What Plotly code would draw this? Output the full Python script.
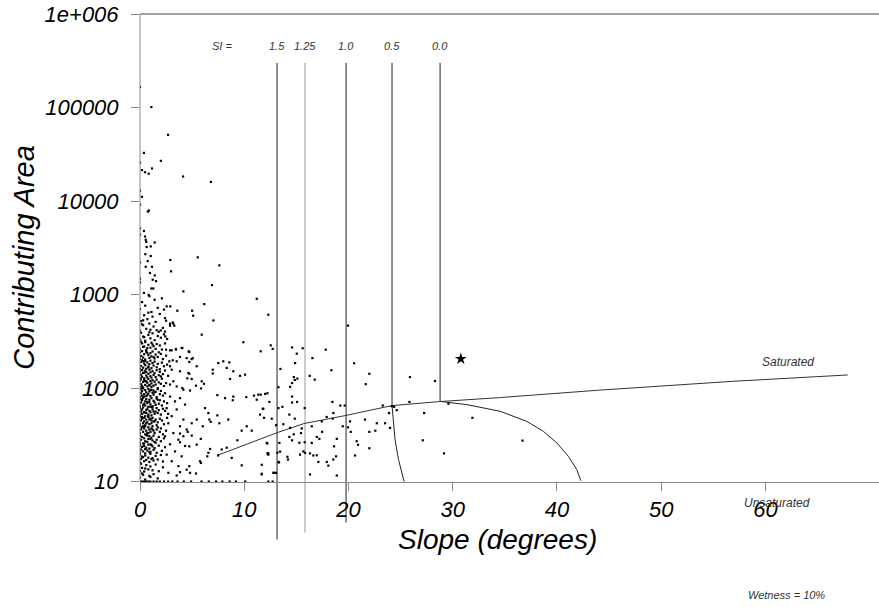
import plotly.graph_objects as go

# slope (degrees) / contributing area readings, grouped by region of the plot
dense_slope = [
    0.2, 0.9, 1.4, 2.1,
    0, 0.5, 1.1, 1.7, 2.3, 0.8,
    0.1, 0.4, 0.7, 1.2, 1.5, 1.9, 2.4, 0.3,
    0, 0.3, 0.6, 0.9, 1.0, 1.3, 1.8, 2.2, 0.2, 1.6,
    0, 0.1, 0.4, 0.5, 0.8, 1.0, 1.2, 1.4, 1.7, 2.0, 2.3, 2.6, 0.3, 0.9,
    0, 0.2, 0.3, 0.5, 0.6, 0.8, 1.0, 1.1, 1.3, 1.5, 1.6, 1.9, 2.1, 2.4, 0.1, 0.7, 1.2, 0.4,
    0, 0, 0.1, 0.2, 0.3, 0.4, 0.5, 0.6, 0.8, 0.9, 1.0, 1.1, 1.2, 1.4, 1.5, 1.7, 1.8, 2.0, 2.2, 2.5, 0.7, 1.3,
    0, 0.1, 0.1, 0.2, 0.3, 0.4, 0.5, 0.5, 0.6, 0.7, 0.8, 0.9, 1.0, 1.1, 1.2, 1.3, 1.4, 1.6, 1.7, 1.9, 2.1, 2.3, 2.6, 0.3, 0.8,
    0, 0, 0.1, 0.2, 0.2, 0.3, 0.4, 0.5, 0.6, 0.6, 0.7, 0.8, 0.9, 1.0, 1.0, 1.1, 1.2, 1.3, 1.4, 1.5, 1.6, 1.8, 1.9, 2.0, 2.2, 2.4, 2.7, 0.4,
    0, 0, 0.1, 0.1, 0.2, 0.3, 0.3, 0.4, 0.5, 0.6, 0.7, 0.7, 0.8, 0.9, 1.0, 1.1, 1.1, 1.2, 1.3, 1.4, 1.5, 1.6, 1.7, 1.8, 2.0, 2.1, 2.3, 2.5, 0.5, 0.9,
    0, 0, 0.1, 0.2, 0.2, 0.3, 0.4, 0.4, 0.5, 0.6, 0.7, 0.8, 0.8, 0.9, 1.0, 1.1, 1.2, 1.3, 1.3, 1.5, 1.6, 1.7, 1.9, 2.0, 2.2, 2.4, 0.1, 0.6, 1.0, 1.4,
    0, 0, 0.1, 0.2, 0.3, 0.3, 0.4, 0.5, 0.5, 0.6, 0.7, 0.8, 0.9, 0.9, 1.0, 1.1, 1.2, 1.3, 1.4, 1.5, 1.6, 1.8, 1.9, 2.1, 2.3, 2.6, 0.2, 0.7, 1.1, 1.7,
    0, 0, 0.1, 0.2, 0.2, 0.3, 0.4, 0.5, 0.6, 0.6, 0.7, 0.8, 0.9, 1.0, 1.0, 1.1, 1.2, 1.3, 1.4, 1.6, 1.7, 1.8, 2.0, 2.2, 2.4, 0.4, 0.8, 1.2, 1.5, 2.7,
    0, 0, 0.1, 0.2, 0.3, 0.4, 0.4, 0.5, 0.6, 0.7, 0.8, 0.9, 1.0, 1.1, 1.1, 1.2, 1.3, 1.5, 1.6, 1.7, 1.9, 2.1, 2.3, 0.2, 0.6, 0.9, 1.4, 2.6,
    0, 0, 0.1, 0.2, 0.3, 0.4, 0.5, 0.5, 0.6, 0.7, 0.8, 0.9, 1.0, 1.1, 1.2, 1.3, 1.4, 1.6, 1.7, 1.9, 2.0, 2.2, 2.5, 0.3, 0.8, 1.2,
    0, 0, 0.1, 0.2, 0.3, 0.4, 0.5, 0.6, 0.7, 0.8, 0.9, 1.0, 1.1, 1.2, 1.3, 1.5, 1.6, 1.8, 2.0, 2.3, 0.4, 0.7, 1.0, 1.4,
    0, 0, 0.1, 0.2, 0.3, 0.4, 0.5, 0.6, 0.7, 0.8, 0.9, 1.0, 1.2, 1.3, 1.4, 1.6, 1.8, 2.1, 2.4, 0.5, 0.9, 1.1,
    0, 0, 0.1, 0.2, 0.4, 0.5, 0.6, 0.8, 0.9, 1.0, 1.2, 1.3, 1.5, 1.7, 2.0, 2.2, 0.3, 1.1,
    0, 0.1, 0.2, 0.4, 0.6, 0.8, 1.0, 1.2, 1.5, 1.8, 2.2, 0.5,
    0, 0.2, 0.5, 0.9, 1.3, 1.7, 0.3, 1.0,
]
dense_area = [
    830, 960, 880, 910,
    700, 760, 650, 720, 690, 640,
    520, 600, 545, 580, 510, 620, 560, 530,
    410, 470, 430, 490, 420, 455, 400, 440, 480, 415,
    330, 390, 350, 320, 370, 340, 385, 325, 360, 345, 375, 335, 355, 395,
    260, 300, 275, 310, 255, 290, 270, 305, 280, 262, 295, 285, 258, 300, 312, 268, 292, 278,
    205, 240, 220, 248, 212, 230, 202, 244, 225, 210, 236, 218, 246, 207, 228, 215, 241, 232, 204, 222, 238, 214,
    160, 190, 172, 198, 165, 183, 176, 195, 161, 188, 170, 180, 196, 163, 185, 174, 192, 167, 181, 159, 187, 171, 178, 194, 166,
    128, 150, 139, 156, 132, 145, 127, 153, 136, 148, 130, 142, 157, 134, 147, 129, 151, 138, 144, 131, 155, 137, 149, 133, 141, 154, 135, 146,
    102, 120, 110, 124, 105, 116, 101, 122, 108, 118, 104, 114, 125, 107, 119, 103, 112, 121, 106, 117, 109, 123, 100, 115, 111, 126, 105, 113, 119, 108,
    80, 97, 88, 93, 83, 99, 86, 81, 95, 90, 84, 98, 87, 92, 82, 96, 89, 85, 94, 91, 80, 97, 86, 93, 83, 88, 99, 82, 95, 90,
    64, 77, 70, 74, 66, 79, 68, 72, 65, 76, 69, 63, 75, 71, 67, 78, 64, 73, 70, 66, 77, 68, 74, 65, 72, 69, 76, 71, 63, 75,
    51, 61, 56, 59, 53, 62, 55, 50, 58, 54, 60, 52, 57, 63, 55, 51, 59, 56, 53, 61, 54, 58, 52, 60, 57, 55, 50, 62, 56, 53,
    41, 49, 45, 47, 42, 48, 44, 40, 46, 43, 49, 41, 47, 45, 42, 48, 44, 46, 40, 43, 47, 45, 41, 49, 42, 46, 44, 48,
    33, 39, 36, 38, 34, 37, 32, 39, 35, 33, 38, 36, 34, 37, 39, 35, 33, 36, 38, 34, 37, 32, 35, 39, 33, 36,
    26, 31, 28, 30, 25.5, 29, 27, 31.5, 26.5, 28.5, 30.5, 25, 29.5, 27.5, 31, 26, 28, 30, 27, 29, 25.5, 31, 28.5, 26.5,
    20.5, 24.5, 22, 23.5, 21, 24, 20, 23, 21.5, 24.8, 22.5, 20.8, 23.8, 21.8, 22.8, 20.3, 24.2, 21.3, 23.3, 22.3, 20.6, 24.6,
    16, 19.5, 17.5, 18.5, 16.5, 19, 17, 18, 16.2, 19.8, 17.8, 16.8, 18.8, 17.2, 19.2, 16.4, 18.2, 17.4,
    13, 15.5, 14, 12.8, 15, 13.5, 14.5, 13.2, 15.2, 12.9, 14.2, 13.8,
    11, 12.2, 10.5, 11.5, 12, 10.8, 11.8, 11.2,
]

upper_slope = [0, 1.09, 2.69, 0.38, 0, 2.0, 0.19, 0.48, 0.83, 1.15, 4.13, 6.8, 0, 0.19, 0,
               0.75, 0.85, 0, 0.38, 0, 0.48, 0.55, 0.6, 1.41, 1.03, 0.64, 0.51, 1.03, 2.91, 5.54,
               0, 0.74, 7.61, 0.55, 1.15, 2.98, 0.96, 1.41, 1.22, 1.54, 0, 0, 6.91, 4.16, 0.38,
               1.09, 1.28, 0.83, 11.2, 6.17, 2.56, 2.9]
upper_area = [166000, 101000, 51000, 32700, 25800, 26900, 21400, 20300, 19600, 22300, 18300, 16000, 12900, 11100, 9140,
              7700, 7900, 5100, 4780, 4370, 4170, 3850, 3660, 3600, 3270, 3220, 2700, 2580, 2340, 2500,
              2200, 2280, 2050, 1980, 1980, 1770, 1700, 1600, 1440, 1390, 1480, 1350, 1260, 1080, 1040,
              1160, 1160, 990, 900, 790, 747, 747]

mid_slope = [3.58, 5.0, 5.1, 7.04, 5.92, 9.92, 2.5, 2.88, 3.29, 3.14, 1.99, 2.4, 2.43,
             4.06, 4.67, 5.06, 4.96, 4.73, 2.5, 3.04, 3.45,
             7.51, 7.99, 8.57, 6.98, 6.98, 8.32, 8.95, 9.6, 10.08, 8.64,
             4.73, 4.96, 4.54, 5.92, 5.85, 6.14, 5.37, 4.06, 4.8,
             7.42, 8.16, 8.95, 8.9, 10.2, 10.94, 11.35, 11.2, 12.0, 11.78,
             6.24, 6.56, 5.44, 4.96, 6.65, 6.02, 7.42, 8.47, 6.78, 7.61,
             9.76, 10.24, 10.72, 9.34, 7.49, 7.84, 8.32, 8.8,
             9.76, 11.68, 12.79, 12.16, 12.31, 13.34,
             4.8, 5.37, 5.85, 5.76, 6.56, 6.72, 6.46, 4.73, 3.84,
             4.16, 4.96, 3.84, 4.58, 3.84, 4.73, 5.44, 5.83,
             2.88, 3.36, 3.84, 4.32, 2.56, 3.52, 3.04, 4.16, 2.72, 3.84, 4.48, 3.2, 2.4, 3.68, 2.88, 4.32,
             3.36, 2.56, 4.0, 3.04, 3.68, 4.48, 2.72, 3.52,
             3.52, 3.14, 3.84, 4.48, 2.81, 2.88, 3.04, 3.84, 4.64, 3.52, 4.16, 3.2, 2.88, 3.45, 4.0,
             2.88, 3.2, 2.88, 4.73, 5.44]
mid_area = [671, 671, 594, 528, 372, 309, 525, 487, 464, 502, 413, 401, 356,
            268, 247, 209, 204, 190, 257, 253, 257,
            185, 193, 188, 157, 143, 164, 151, 135, 139, 125,
            142, 125, 127, 118, 99, 111, 106, 100, 94,
            84, 78, 81, 74, 80, 83, 85, 75, 86.5, 60,
            61, 54, 46, 42, 46, 39, 51, 46, 43.5, 42,
            35, 39, 35, 27.6, 19, 22, 23, 17.9,
            14.9, 12.1, 12.4, 25.9, 20, 16,
            12.4, 12.2, 15.8, 16.5, 20.3, 22.3, 18.6, 14.6, 12.6,
            30.5, 31, 32.6, 34, 26.3, 23.8, 24.8, 28.6,
            81, 72, 78, 66.5, 61, 59, 50, 46, 42, 39, 36, 33, 30.5, 28, 25, 24,
            21, 19.4, 18.6, 16.5, 14.6, 13.4, 12.4, 11.6,
            193, 198, 215, 209, 193, 171, 157, 151, 145, 104, 96, 118, 109, 262, 268,
            253, 488, 464, 243, 171]

right_slope = [12.31, 11.58, 12.54, 12.73, 14.59, 15.61, 15.04, 17.82, 19.96, 16.54, 14.88, 20.54, 13.47, 18.36, 22.0, 25.9, 28.3,
               16.28, 16.76, 14.75, 15.1, 14.85, 14.59, 14.4, 13.28, 21.66,
               11.58, 12.22, 12.41, 11.83, 14.59, 15.07, 14.59, 13.66, 13.28, 15.8, 18.46, 19.22, 19.64, 23.29, 24.15,
               24.38, 25.85, 23.9, 24.63, 29.59, 27.26, 31.89,
               11.52, 11.9, 12.64, 14.33, 14.85, 14.4, 14.75, 14.33, 14.59, 15.52, 15.45, 15.29, 15.8, 13.05, 13.75,
               16.48, 17.44, 17.91, 18.55, 18.49, 19.45, 20.15, 19.96, 20.22, 21.59, 22.72, 23.51, 22.0, 22.58, 23.99,
               20.79, 20.92, 22.0, 20.63,
               16.96, 17.21, 17.47, 18.88, 18.62, 16.48, 15.67, 16.31, 16.63, 16.96, 17.11, 17.92, 18.07, 18.55, 18.81, 18.88, 16.31,
               13.37, 13.18, 13.44, 14.14, 14.2, 13.28, 13.05,
               12.22, 12.31, 12.22, 11.68, 12.86, 11.68, 12.31, 12.73,
               27.13, 29.17, 15.83, 15.35, 36.7]
right_area = [608, 247, 286, 262, 272, 266, 233, 257, 465, 209, 185, 184, 160, 155, 142, 131, 119,
              135, 123, 131, 126, 122, 113, 103, 102, 110,
              85, 88, 71, 60, 81, 71, 70, 63, 61, 61, 71, 65, 65, 65, 64,
              63, 71, 54, 58, 68, 54, 48,
              52, 48, 47, 52, 47, 37.5, 32, 30, 27.6, 37, 33, 26, 26.3, 40, 41,
              39, 44, 49, 54, 47, 39, 44, 38, 34, 46, 42, 42, 34, 35, 37.5,
              27, 24.7, 22.7, 19,
              30, 28.6, 34, 28.6, 23.8, 25.9, 21, 20, 19, 19.1, 16.2, 16.2, 14.8, 17.2, 18.6, 11.6, 11.9,
              25.9, 20.3, 20.9, 18.4, 17.2, 16.2, 12.4,
              25.5, 19.4, 20, 15.1, 12.4, 11.9, 10, 10,
              27.6, 20, 20.3, 19.4, 27.4]

# cells sitting on the 10 line
floor_slope = [0, 0.2, 0.4, 0.6, 0.8, 1.0, 1.3, 1.6, 1.9, 2.3, 2.7, 3.1, 3.6, 4.2, 4.9,
               5.9, 6.6, 7.3, 7.9, 8.6, 9.2, 10.1]
floor_area = [10] * len(floor_slope)

star_slope = [30.78]
star_area = [205]

# SI threshold lines
si_labels = ["1.5", "1.25", "1.0", "0.5", "0.0"]
si_slope = [13.15, 15.83, 19.77, 24.18, 28.79]
si_top = 3e5
si_bottom = [2.4, 2.85, 3.65]

curve05_slope = [24.18, 24.18, 24.3, 24.47, 24.8, 25.34]
curve05_area = [3e5, 65, 46, 28, 17.2, 10]
curve00_slope = [28.79, 28.79, 31.35, 34.55, 37.11, 38.7, 39.99, 41.1, 41.91, 42.3]
curve00_area = [3e5, 72, 66.5, 56.4, 44, 34.4, 25.9, 18.6, 13.4, 10.2]

sat_slope = [7.39, 13.15, 15.74, 19.67, 24.18, 28.7, 34.5, 44.1, 56.9, 67.9]
sat_area = [19.0, 33.3, 41.7, 50.7, 64.9, 71.6, 79, 95, 118, 138]

y_ticks = [10, 100, 1000, 10000, 100000, 1000000]
y_ticktext = ["10", "100", "1000", "10000", "100000", "1e+006"]
x_ticks = [0, 10, 20, 30, 40, 50, 60]

FONT = "Liberation Sans, Arial, sans-serif"

all_slope = dense_slope + upper_slope + mid_slope + right_slope + floor_slope
all_area = dense_area + upper_area + mid_area + right_area + floor_area

fig = go.Figure()

line_style = dict(color="#222222", width=1)
for i in range(3):
    fig.add_trace(go.Scatter(x=[si_slope[i], si_slope[i]], y=[si_top, si_bottom[i]], mode="lines",
                             line=dict(color="#999999" if i == 1 else "#222222", width=1), hoverinfo="skip"))
fig.add_trace(go.Scatter(x=curve05_slope, y=curve05_area, mode="lines", line=line_style, hoverinfo="skip"))
fig.add_trace(go.Scatter(x=curve00_slope, y=curve00_area, mode="lines", line=line_style, hoverinfo="skip"))
fig.add_trace(go.Scatter(x=sat_slope, y=sat_area, mode="lines", line=dict(color="#333333", width=1), hoverinfo="skip"))

fig.add_trace(go.Scatter(x=all_slope, y=all_area, mode="markers",
                         marker=dict(size=2.2, color="black", symbol="square"), hoverinfo="skip"))
fig.add_trace(go.Scatter(x=star_slope, y=star_area, mode="markers",
                         marker=dict(size=9, color="black", symbol="star"), hoverinfo="skip"))

# axis lines drawn by hand (y axis stops at 10, frame top at 1e6)
fig.add_shape(type="line", xref="paper", yref="paper", x0=0, x1=0, y0=0.7 / 5.7, y1=1,
              line=dict(color="#888888", width=1))
fig.add_shape(type="line", xref="paper", yref="paper", x0=0, x1=1, y0=1, y1=1,
              line=dict(color="#444444", width=1))

anns = [
    dict(text="SI =", x=0.111, y=0.940, size=11),
    dict(text="Saturated", x=0.877, y=0.348, size=12),
    dict(text="Unsaturated", x=0.862, y=0.0834, size=12),
    dict(text="Wetness = 10%", x=0.8755, y=-0.0909, size=11),
]
for a in anns:
    fig.add_annotation(text=a["text"], x=a["x"], y=a["y"], xref="paper", yref="paper", showarrow=False,
                       xanchor="center", yanchor="middle",
                       font=dict(family=FONT, size=a["size"], color="#333333", style="italic"))
for lab, s in zip(si_labels, si_slope):
    fig.add_annotation(text=lab, x=s, y=0.940, xref="x", yref="paper", showarrow=False,
                       xanchor="center", yanchor="middle",
                       font=dict(family=FONT, size=11, color="#333333", style="italic"))

fig.add_annotation(text="Slope (degrees)", x=0.4844, y=0.014, xref="paper", yref="paper", showarrow=False,
                   xanchor="center", yanchor="middle",
                   font=dict(family=FONT, size=28, color="black", style="italic"))
fig.add_annotation(text="Contributing Area", x=-0.157, y=0.5445, xref="paper", yref="paper", showarrow=False,
                   xanchor="center", yanchor="middle", textangle=-90,
                   font=dict(family=FONT, size=29, color="black", style="italic"))

tick_font = dict(family=FONT, size=22, color="black", style="italic")
fig.update_layout(
    width=879, height=607,
    margin=dict(l=140, r=0, t=14, b=60, autoexpand=False),
    paper_bgcolor="white", plot_bgcolor="white",
    showlegend=False,
    xaxis=dict(range=[0, 70.9], tickvals=x_ticks, ticks="outside", ticklen=8, tickcolor="#888888",
               showline=True, linecolor="#888888", linewidth=1, showgrid=False, zeroline=False,
               anchor="free", position=0.7 / 5.7, tickfont=tick_font, automargin=False),
    yaxis=dict(type="log", range=[0.3, 6], tickvals=y_ticks, ticktext=y_ticktext, ticks="outside",
               ticklen=8, tickcolor="#888888", showline=False, showgrid=False, zeroline=False,
               tickfont=tick_font, ticklabelstandoff=8, ticklabeloverflow="allow", automargin=False),
)

# drop the page's default body margin so the figure sits at the window's corner
fig.write_html("out.html", config={"displayModeBar": False},
               post_script="document.body.style.margin = '0';")
